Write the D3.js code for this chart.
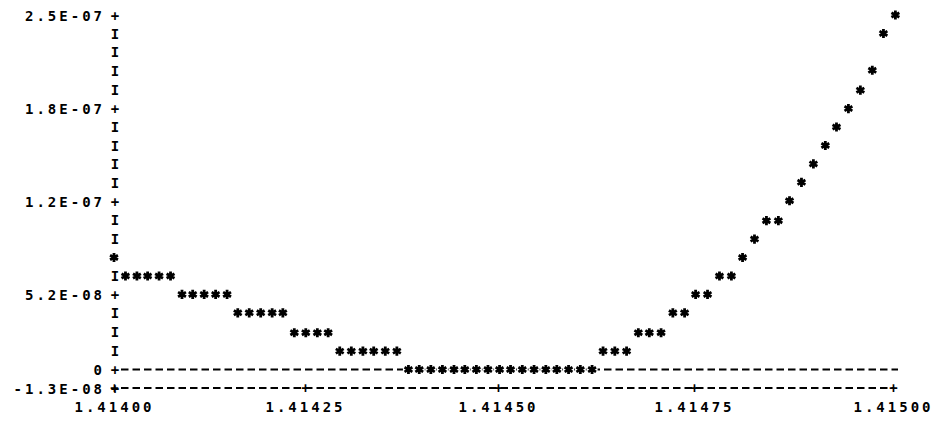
<!DOCTYPE html>
<html>
<head>
<meta charset="utf-8">
<script src="https://cdn.jsdelivr.net/npm/d3@7"></script>
<style>
  body { margin: 0; background: #fff; }
  text { font-family: "DejaVu Sans Mono", monospace; font-weight: bold; font-size: 14px; letter-spacing: 3px; fill: #000; }
</style>
</head>
<body>
<svg id="chart" width="934" height="425"></svg>
<script>
// sample points, one per printer column
var xs = [1.414000, 1.414015, 1.414030, 1.414044, 1.414059, 1.414074, 1.414089, 1.414103, 1.414118, 1.414133,
          1.414148, 1.414162, 1.414177, 1.414192, 1.414207, 1.414221, 1.414236, 1.414251, 1.414266, 1.414280,
          1.414295, 1.414310, 1.414325, 1.414339, 1.414354, 1.414369, 1.414384, 1.414398, 1.414413, 1.414428,
          1.414443, 1.414457, 1.414472, 1.414487, 1.414502, 1.414516, 1.414531, 1.414546, 1.414561, 1.414575,
          1.414590, 1.414605, 1.414620, 1.414634, 1.414649, 1.414664, 1.414679, 1.414693, 1.414708, 1.414723,
          1.414738, 1.414752, 1.414767, 1.414782, 1.414797, 1.414811, 1.414826, 1.414841, 1.414856, 1.414870,
          1.414885, 1.414900, 1.414915, 1.414929, 1.414944, 1.414959, 1.414974, 1.414988, 1.415003];
var ys = [7.9e-8, 6.6e-8, 6.6e-8, 6.6e-8, 6.6e-8, 6.6e-8, 5.3e-8, 5.3e-8, 5.3e-8, 5.3e-8,
          5.3e-8, 4.0e-8, 4.0e-8, 4.0e-8, 4.0e-8, 4.0e-8, 2.6e-8, 2.6e-8, 2.6e-8, 2.6e-8,
          1.3e-8, 1.3e-8, 1.3e-8, 1.3e-8, 1.3e-8, 1.3e-8, 0, 0, 0, 0,
          0, 0, 0, 0, 0, 0, 0, 0, 0, 0,
          0, 0, 0, 1.3e-8, 1.3e-8, 1.3e-8, 2.6e-8, 2.6e-8, 2.6e-8, 4.0e-8,
          4.0e-8, 5.3e-8, 5.3e-8, 6.6e-8, 6.6e-8, 7.9e-8, 9.2e-8, 1.05e-7, 1.05e-7, 1.19e-7,
          1.32e-7, 1.45e-7, 1.58e-7, 1.71e-7, 1.84e-7, 1.97e-7, 2.11e-7, 2.37e-7, 2.50e-7];

var xTicks = [1.41400, 1.41425, 1.41450, 1.41475, 1.41500];
var xTickLabels = ["1.41400", "1.41425", "1.41450", "1.41475", "1.41500"];
var yTicks = [2.5e-7, 1.8425e-7, 1.185e-7, 5.275e-8, 0, -1.3e-8];
var yTickLabels = ["2.5E-07", "1.8E-07", "1.2E-07", "5.2E-08", "0", "-1.3E-08"];

var svg = d3.select("#chart");

// printout is slightly stretched to the right, so the x scale is piecewise
var x = d3.scaleLinear().domain(xTicks).range([114, 305, 498, 694, 893]);
var y = d3.scaleLinear().domain([-1.3e-8, 2.5e-7]).range([388, 15]);

// dashed zero line
svg.append("line")
  .attr("x1", x(1.414) + 7).attr("x2", x(1.415) + 5)
  .attr("y1", y(0)).attr("y2", y(0))
  .attr("stroke", "#000").attr("stroke-width", 2)
  .attr("stroke-dasharray", "7.5 4");

// bottom axis
var xAxis = svg.append("g")
  .attr("transform", "translate(0," + y(-1.3e-8) + ")")
  .call(d3.axisBottom(x).tickValues(xTicks)
    .tickFormat(function(d, i) { return xTickLabels[i]; })
    .tickSize(0).tickSizeOuter(0).tickPadding(14));
xAxis.select(".domain")
  .attr("d", "M" + (x(1.414) + 7) + ",0H" + x(1.415))
  .attr("stroke", "#000").attr("stroke-width", 2)
  .attr("stroke-dasharray", "7.5 4");
xAxis.selectAll(".tick text").attr("font-family", null).attr("font-size", null);
xAxis.selectAll(".tick").append("text")
  .attr("class", "mark")
  .attr("text-anchor", "middle")
  .attr("dx", "1.5px")
  .attr("dy", "0.36em")
  .text("+");

// left axis
var yAxis = svg.append("g")
  .attr("transform", "translate(115,0)")
  .call(d3.axisLeft(y).tickValues(yTicks)
    .tickFormat(function(d, i) { return yTickLabels[i]; })
    .tickSize(0).tickPadding(10));
yAxis.select(".domain").remove();
yAxis.selectAll(".tick text").attr("font-family", null).attr("font-size", null).attr("dy", "0.36em");
yAxis.selectAll(".tick").append("text")
  .attr("text-anchor", "middle")
  .attr("dx", "1.5px")
  .attr("dy", "0.36em")
  .text("+");

// "I" fillers on the rows between ticks
var rowStep = (2.5e-7 + 1.3e-8) / 20;
var rows = d3.range(21).map(function(r) { return 2.5e-7 - r * rowStep; })
  .filter(function(v) {
    return !yTicks.some(function(t) { return Math.abs(y(t) - y(v)) < 6; });
  });
yAxis.selectAll(".rowmark").data(rows).enter().append("text")
  .attr("class", "rowmark")
  .attr("text-anchor", "middle")
  .attr("dx", "1.5px")
  .attr("y", function(d) { return y(d); })
  .attr("dy", "0.36em")
  .text("I");

// points: white cell behind each star, then the star
var pts = xs.map(function(v, i) { return { x: v, y: ys[i] }; });
var cells = svg.append("g").selectAll("g").data(pts).enter().append("g")
  .attr("transform", function(d) { return "translate(" + x(d.x) + "," + y(d.y) + ")"; });
cells.append("rect")
  .attr("x", -5.5).attr("y", -7).attr("width", 11).attr("height", 14)
  .attr("fill", "#fff");
cells.append("path")
  .attr("d", d3.symbol(d3.symbolAsterisk, 58))
  .attr("fill", "none")
  .attr("stroke", "#000")
  .attr("stroke-width", 2.8);
</script>
</body>
</html>
